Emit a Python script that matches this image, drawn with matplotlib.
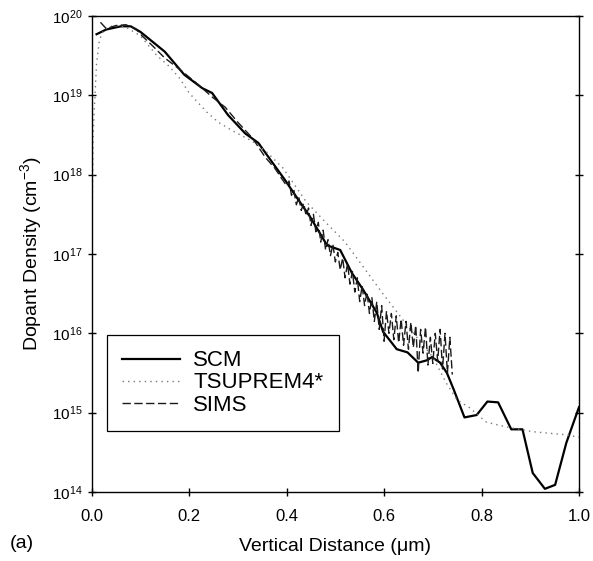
import matplotlib

matplotlib.use("Agg")
import matplotlib.pyplot as plt
import numpy as np
from matplotlib.ticker import FixedLocator, FuncFormatter

plt.rcParams.update(
    {
        "font.family": ["Liberation Sans", "DejaVu Sans"],
        "mathtext.fontset": "custom",
        "mathtext.rm": "Liberation Sans",
        "mathtext.it": "Liberation Sans:italic",
        "axes.linewidth": 1.0,
    }
)

# Values: depth in um, density as log10(cm^-3)
scm_x = [0.010, 0.030, 0.060, 0.080, 0.100, 0.120, 0.150, 0.190, 0.227, 0.247,
         0.280, 0.315, 0.342, 0.370, 0.397, 0.420, 0.448, 0.483, 0.510, 0.534,
         0.557, 0.585, 0.598, 0.626, 0.648, 0.670, 0.688, 0.698, 0.715, 0.729,
         0.743, 0.765, 0.790, 0.812, 0.834, 0.861, 0.884, 0.905, 0.930, 0.951,
         0.974, 1.000]
scm_exp = [19.77, 19.83, 19.87, 19.87, 19.80, 19.70, 19.55, 19.26, 19.09, 19.03,
           18.75, 18.52, 18.40, 18.16, 17.93, 17.72, 17.47, 17.11, 17.05, 16.76,
           16.55, 16.26, 16.02, 15.80, 15.76, 15.63, 15.66, 15.70, 15.63, 15.50,
           15.29, 14.94, 14.97, 15.14, 15.13, 14.79, 14.79, 14.24, 14.04, 14.09,
           14.62, 15.07]

tsuprem_x = [0.000, 0.003, 0.006, 0.010, 0.016, 0.025, 0.045, 0.070, 0.100, 0.134,
             0.160, 0.181, 0.200, 0.236, 0.260, 0.290, 0.330, 0.360, 0.393, 0.440,
             0.480, 0.520, 0.557, 0.595, 0.650, 0.700, 0.728, 0.750, 0.776, 0.810,
             0.851, 0.905, 0.975, 1.000]
tsuprem_exp = [17.0, 18.5, 18.9, 19.4, 19.7, 19.83, 19.88, 19.86, 19.75, 19.50,
               19.36, 19.21, 19.03, 18.79, 18.66, 18.55, 18.42, 18.28, 18.08, 17.66,
               17.40, 17.15, 16.84, 16.52, 16.08, 15.70, 15.37, 15.16, 15.06, 14.88,
               14.82, 14.76, 14.72, 14.69]

sims_x = [0.018, 0.030, 0.050, 0.070, 0.090, 0.105, 0.124, 0.150, 0.178, 0.212,
          0.247, 0.274, 0.300, 0.330, 0.356, 0.376, 0.390,
          0.400, 0.405, 0.410, 0.415, 0.420, 0.425, 0.430, 0.435, 0.440, 0.445,
          0.450, 0.455, 0.460, 0.465, 0.470, 0.475, 0.480, 0.485, 0.490, 0.495,
          0.500, 0.505, 0.510, 0.515, 0.520, 0.525, 0.530, 0.535, 0.540, 0.545,
          0.550, 0.555, 0.560, 0.565, 0.570, 0.575, 0.580, 0.585, 0.590, 0.595,
          0.600, 0.605, 0.610, 0.615, 0.620, 0.625, 0.630, 0.635, 0.640, 0.645,
          0.650, 0.655, 0.660, 0.665, 0.670, 0.675, 0.680, 0.685, 0.690, 0.695,
          0.700, 0.705, 0.710, 0.715, 0.720, 0.725, 0.730, 0.735, 0.740]
sims_exp = [19.92, 19.84, 19.88, 19.89, 19.84, 19.74, 19.63, 19.47, 19.34, 19.17,
            18.98, 18.85, 18.66, 18.46, 18.22, 18.08, 17.95,
            17.86, 17.92, 17.74, 17.80, 17.62, 17.72, 17.55, 17.64, 17.48, 17.58,
            17.36, 17.50, 17.28, 17.40, 17.15, 17.30, 17.05, 17.18, 16.98, 17.12,
            16.90, 17.02, 16.80, 16.95, 16.70, 16.88, 16.62, 16.78, 16.52, 16.70,
            16.40, 16.60, 16.35, 16.52, 16.25, 16.45, 16.15, 16.40, 16.05, 16.35,
            15.90, 16.28, 16.00, 16.25, 15.92, 16.22, 15.88, 16.18, 15.85, 16.15,
            15.80, 16.14, 15.82, 16.10, 15.50, 16.05, 15.75, 16.08, 15.60, 15.95,
            15.62, 16.00, 15.65, 16.05, 15.55, 16.00, 15.50, 15.95, 15.48]

x_ticks = [0.0, 0.2, 0.4, 0.6, 0.8, 1.0]
y_decades = [14, 15, 16, 17, 18, 19, 20]

fig = plt.figure(figsize=(5.93, 5.61), dpi=100)
ax = fig.add_axes([0.1546, 0.123, 0.8218, 0.8485])

ax.plot(scm_x, 10.0 ** np.array(scm_exp), color="black", lw=1.6, label="SCM")
ax.plot(tsuprem_x, 10.0 ** np.array(tsuprem_exp), color="#777777", lw=1.0,
        linestyle=(0, (1, 3)), label="TSUPREM4*")
ax.plot(sims_x, 10.0 ** np.array(sims_exp), color="#1a1a1a", lw=1.0,
        linestyle=(0, (6, 2.5)), label="SIMS")

ax.set_yscale("log")
ax.set_xlim(0.0, 1.0)
ax.set_ylim(1e14, 1e20)
ax.xaxis.set_major_locator(FixedLocator(x_ticks))
ax.xaxis.set_major_formatter(FuncFormatter(lambda v, p: f"{v:.1f}"))
ax.yaxis.set_major_locator(FixedLocator([10.0 ** d for d in y_decades]))
ax.yaxis.set_minor_locator(FixedLocator([]))
ax.yaxis.set_major_formatter(
    FuncFormatter(lambda v, p: r"$\mathregular{10^{%d}}$" % round(np.log10(v)))
)
ax.tick_params(axis="y", which="major", direction="inout", length=6, width=1.0,
               right=True, labelsize=11)
ax.tick_params(axis="x", which="major", direction="inout", length=6, width=1.0,
               labelsize=12, pad=9)

ax.set_xlabel("Vertical Distance (\u03bcm)", fontsize=14, labelpad=10)
ax.set_ylabel(r"Dopant Density (cm$^{-3}$)", fontsize=14, labelpad=6)
fig.text(0.017, 0.032, "(a)", fontsize=14, va="center")

leg = ax.legend(loc="lower left", bbox_to_anchor=(0.031, 0.128), fontsize=16,
                frameon=True, fancybox=False, edgecolor="black", framealpha=1.0,
                handlelength=2.6, handletextpad=0.6, labelspacing=0.05,
                borderpad=0.7, borderaxespad=0.0)
leg.get_frame().set_linewidth(0.9)

fig.savefig("out.png", dpi=100)
